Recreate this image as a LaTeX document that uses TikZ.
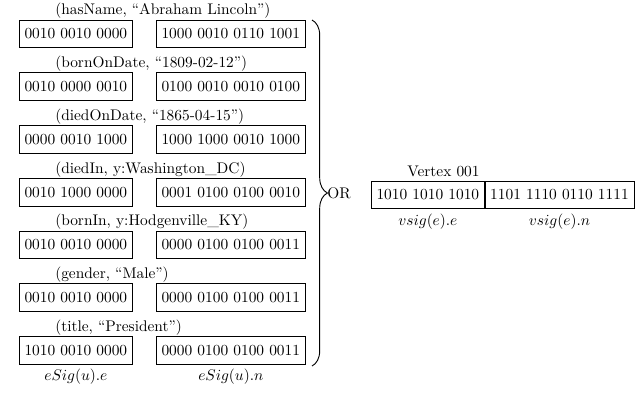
\documentclass[tikz,border=0pt]{standalone}
\usetikzlibrary{decorations.pathreplacing}

\begin{document}
\begin{tikzpicture}[x=0.6494pt,y=-0.6494pt,
  sigbox/.style={draw,line width=0.5pt,inner xsep=3.33pt,minimum height=18pt},
  pairlabel/.style={anchor=base west,inner sep=0pt},
  sublabel/.style={anchor=north,inner sep=3pt}]
\useasboundingbox (0,0) rectangle (638,396);

% edge signatures, one row per (predicate, object) pair
\foreach \i/\lab/\e/\n in {
  1/{(hasName, ``Abraham Lincoln'')}/{0010 0010 0000}/{1000 0010 0110 1001},
  2/{(bornOnDate, ``1809-02-12'')}/{0010 0000 0010}/{0100 0010 0010 0100},
  3/{(diedOnDate, ``1865-04-15'')}/{0000 0010 1000}/{1000 1000 0010 1000},
  4/{(diedIn, y:Washington\_DC)}/{0010 1000 0000}/{0001 0100 0100 0010},
  5/{(bornIn, y:Hodgenville\_KY)}/{0010 0010 0000}/{0000 0100 0100 0011},
  6/{(gender, ``Male'')}/{0010 0010 0000}/{0000 0100 0100 0011},
  7/{(title, ``President'')}/{1010 0010 0000}/{0000 0100 0100 0011}} {
  \pgfmathsetmacro{\cy}{34+52.7*(\i-1)}
  \node[sigbox,anchor=west] (e\i) at (19,\cy) {\e};
  \node[sigbox,anchor=west] (n\i) at (156,\cy) {\n};
  \node[pairlabel] (p\i) at (55,\cy-19) {\lab};
}

\node[sublabel] (le) at (e7.south) {$eSig(u).e$};
\node[sublabel] (ln) at (n7.south) {$eSig(u).n$};

% brace collecting all rows
\coordinate (btop) at (312,20);
\coordinate (bbot) at (312,366);
\draw[line width=0.6pt,decorate,decoration={brace,amplitude=10pt}] (btop) -- (bbot);
\node[anchor=west,inner sep=0pt] (or) at (327,193) {OR};

% vertex signature
\node[sigbox,anchor=west] (v1) at (371,195) {1010 1010 1010};
\node[sigbox,anchor=west] (v2) at (v1.east) {1101 1110 0110 1111};
\node[pairlabel] (vt) at (407,176) {Vertex 001};
\node[sublabel] (ve) at (v1.south) {$vsig(e).e$};
\node[sublabel] (vn) at (v2.south) {$vsig(e).n$};
\end{tikzpicture}
\end{document}
